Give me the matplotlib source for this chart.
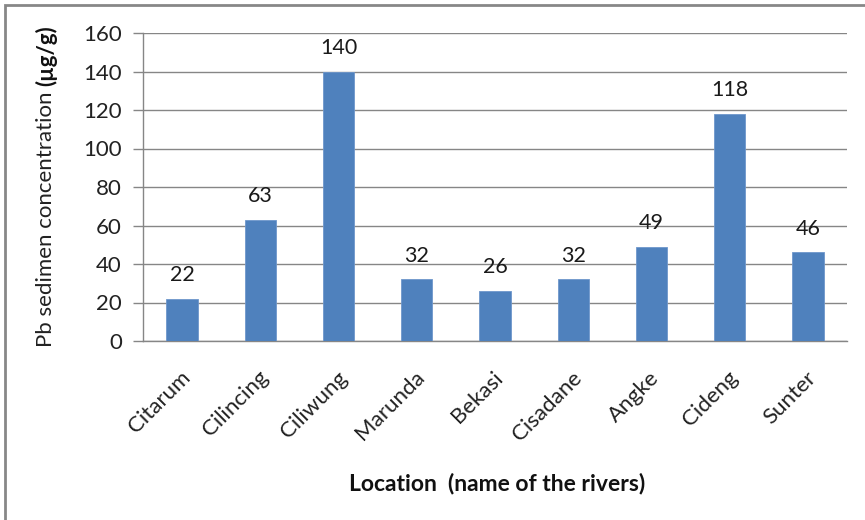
import matplotlib
matplotlib.use('Agg')
import matplotlib.pyplot as plt
import matplotlib.transforms as mtransforms
from matplotlib.patches import Rectangle

rivers = ['Citarum', 'Cilincing', 'Ciliwung', 'Marunda', 'Bekasi',
          'Cisadane', 'Angke', 'Cideng', 'Sunter']
pb = [22, 63, 140, 32, 26, 32, 49, 118, 46]
yticks = [0, 20, 40, 60, 80, 100, 120, 140, 160]

plt.rcParams['font.family'] = ['Lato', 'DejaVu Sans']
cinza = '#868686'
azul = '#4F81BD'

W, H = 865, 520
fig = plt.figure(figsize=(W / 100, H / 100), dpi=100)
ax = fig.add_axes([143 / W, 1 - 341 / H, (847 - 143) / W, (341 - 33) / H])

x = range(len(rivers))
ax.bar(x, pb, width=0.4, color=azul, edgecolor='#6E97CC', linewidth=0.6, zorder=3)
for i, v in zip(x, pb):
    ax.annotate(str(v), (i, v), xytext=(0, 10), textcoords='offset points',
                ha='center', va='bottom', fontsize=15.5, color='#1a1a1a')

ax.set_xlim(-0.5, len(rivers) - 0.5)
ax.set_ylim(0, 160)
ax.set_yticks(yticks)
ax.yaxis.grid(True, color=cinza, linewidth=1)
ax.set_axisbelow(True)
ax.tick_params(axis='y', length=7.2, width=1, color=cinza, pad=8, labelsize=16, labelcolor='#222222')
ax.tick_params(axis='x', length=0, pad=24, labelsize=16, labelcolor='#222222')
ax.set_xticks(list(x))
ax.set_xticklabels(rivers, rotation=45, ha='right', va='center', rotation_mode='anchor')
desloc = mtransforms.ScaledTranslation(5 / 100, 0, fig.dpi_scale_trans)
for lab in ax.get_xticklabels():
    lab.set_transform(lab.get_transform() + desloc)
for s in ['top', 'right']:
    ax.spines[s].set_visible(False)
for s in ['left', 'bottom']:
    ax.spines[s].set_color(cinza)
    ax.spines[s].set_linewidth(1)

# y label: normal part + bold unit
fig.canvas.draw()
r = fig.canvas.get_renderer()
t1 = fig.text(46 / W, 0, 'Pb sedimen concentration ', rotation=90, fontsize=16,
              ha='center', va='bottom', color='#222222')
t2 = fig.text(46 / W, 0, '(µg/g)', rotation=90, fontsize=16, fontweight='bold',
              ha='center', va='bottom', color='#111111')
h1 = t1.get_window_extent(r).height
h2 = t2.get_window_extent(r).height
yc = (H - 186)
y0 = yc - (h1 + h2) / 2
t1.set_y(y0 / H)
t2.set_y((y0 + h1) / H)

fig.text(497 / W, 1 - 483 / H, 'Location  (name of the rivers)', ha='center', va='center',
         fontsize=16.5, fontweight='bold', color='#111111')

# moldura
fig.patches.append(Rectangle((5 / W, -0.1), 1.2, 1 - 5 / H + 0.1, transform=fig.transFigure,
                             fill=False, edgecolor='#878787', linewidth=2))

fig.savefig('out.png', dpi=100)
